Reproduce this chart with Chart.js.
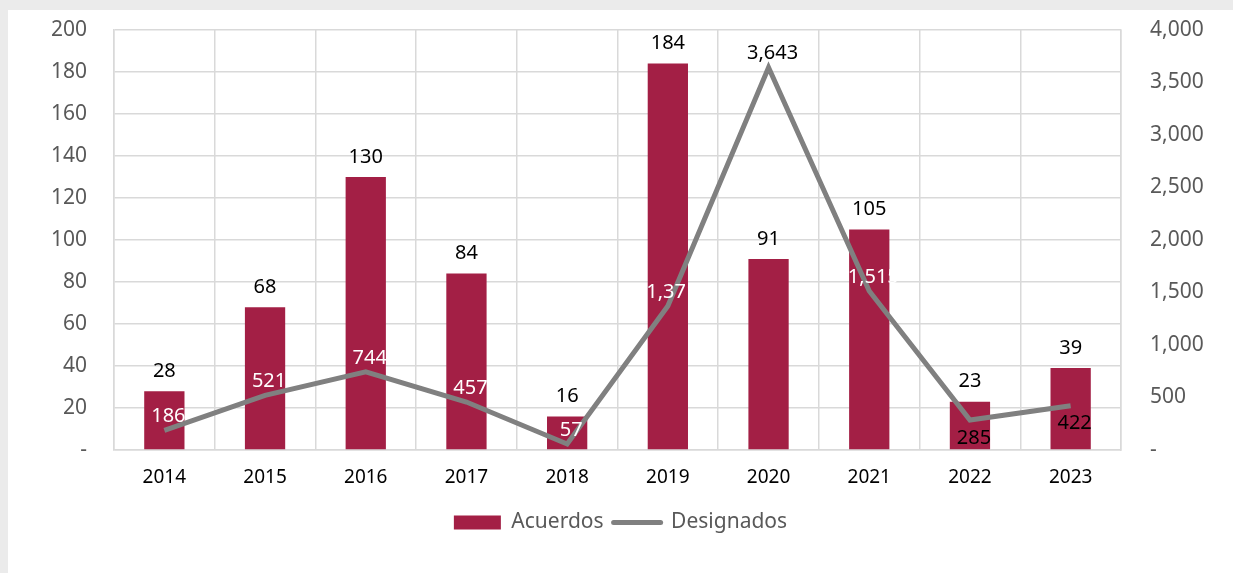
<!DOCTYPE html>
<html>
<head>
<meta charset="utf-8">
<script src="https://cdn.jsdelivr.net/npm/chart.js@4.4.0/dist/chart.umd.min.js"></script>
<style>
  html, body { margin: 0; padding: 0; background: #ebebeb; overflow: hidden; }
  .panel { position: absolute; left: 8px; top: 10px; width: 1225px; height: 563px; background: #fff; }
  canvas { display: block; }
</style>
</head>
<body>
<div class="panel"><canvas id="chart" width="1225" height="563"></canvas></div>
<script>
const years = ["2014", "2015", "2016", "2017", "2018", "2019", "2020", "2021", "2022", "2023"];
const acuerdos = [28, 68, 130, 84, 16, 184, 91, 105, 23, 39];
const designados = [186, 521, 744, 457, 57, 1371, 3643, 1515, 285, 422];

const barColor = "#a31f45";
const lineColor = "#808080";
const gridColor = "#d9d9d9";
const fontFamily = "'Noto Sans', sans-serif";

// white labels sit on the bars, the ones outside them are black
const designadosLabelColors = ["#fff", "#fff", "#fff", "#fff", "#fff", "#fff", "#000", "#fff", "#000", "#000"];

const fmt = v => v.toLocaleString("en-US");

const valueLabels = {
  id: "valueLabels",
  afterDatasetsDraw(chart) {
    const ctx = chart.ctx;
    ctx.save();
    ctx.font = "20px " + fontFamily;
    ctx.textAlign = "center";
    ctx.textBaseline = "middle";

    const bars = chart.getDatasetMeta(0).data;
    bars.forEach((bar, i) => {
      ctx.fillStyle = "#000";
      ctx.fillText(fmt(acuerdos[i]), bar.x, bar.y - 20);
    });

    chart.getDatasetMeta(1).data.forEach((pt, i) => {
      const color = designadosLabelColors[i];
      ctx.fillStyle = color;
      // black labels near a bar top go under the line so they don't hit the bar label
      const below = color === "#000" && pt.y > bars[i].y - 40;
      ctx.fillText(fmt(designados[i]), pt.x + 4, below ? pt.y + 18 : pt.y - 14);
    });
    ctx.restore();
  }
};

// fixed axis sizes so the plot box lands where we want it
const fixSide = w => scale => {
  scale.width = w;
  scale.paddingTop = 0;
  scale.paddingBottom = 0;
};

new Chart(document.getElementById("chart"), {
  data: {
    labels: years,
    datasets: [
      {
        type: "bar",
        label: "Acuerdos",
        data: acuerdos,
        backgroundColor: barColor,
        yAxisID: "y",
        categoryPercentage: 1,
        barPercentage: 0.4,
        order: 2
      },
      {
        type: "line",
        label: "Designados",
        data: designados,
        borderColor: lineColor,
        backgroundColor: lineColor,
        borderWidth: 5,
        pointRadius: 0,
        tension: 0,
        yAxisID: "y1",
        order: 1
      }
    ]
  },
  options: {
    responsive: false,
    animation: false,
    layout: { padding: { top: 20, bottom: 30, left: 0, right: 0 } },
    scales: {
      x: {
        offset: true,
        grid: { offset: true, color: gridColor, lineWidth: 1.5, drawTicks: false },
        border: { color: gridColor, width: 1.5 },
        ticks: { color: "#000", font: { family: fontFamily, size: 19 }, padding: 16 },
        afterFit(scale) { scale.height = 52; }
      },
      y: {
        position: "left",
        min: 0,
        max: 200,
        ticks: {
          stepSize: 20,
          color: "#595959",
          font: { family: fontFamily, size: 21 },
          padding: 27,
          callback: v => v === 0 ? "-" : v
        },
        grid: { color: gridColor, lineWidth: 1.5, drawTicks: false },
        border: { color: gridColor, width: 1.5 },
        afterFit: fixSide(106)
      },
      y1: {
        position: "right",
        min: 0,
        max: 4000,
        ticks: {
          stepSize: 500,
          color: "#595959",
          font: { family: fontFamily, size: 21 },
          padding: 29,
          callback: v => v === 0 ? "-" : fmt(v)
        },
        grid: { drawOnChartArea: false, drawTicks: false },
        border: { color: gridColor, width: 1.5 },
        afterFit: fixSide(112)
      }
    },
    plugins: {
      tooltip: { enabled: false },
      legend: {
        position: "bottom",
        labels: {
          usePointStyle: true,
          pointStyleWidth: 47,
          boxHeight: 14,
          padding: 10,
          color: "#595959",
          font: { family: fontFamily, size: 21 },
          generateLabels(chart) {
            return [
              {
                text: "Acuerdos",
                fillStyle: barColor,
                strokeStyle: barColor,
                lineWidth: 0,
                pointStyle: "rect",
                fontColor: "#595959",
                datasetIndex: 0
              },
              {
                text: "Designados",
                fillStyle: lineColor,
                strokeStyle: lineColor,
                lineWidth: 5,
                lineCap: "round",
                pointStyle: "line",
                fontColor: "#595959",
                datasetIndex: 1
              }
            ];
          }
        }
      }
    }
  },
  plugins: [valueLabels]
});
</script>
</body>
</html>
